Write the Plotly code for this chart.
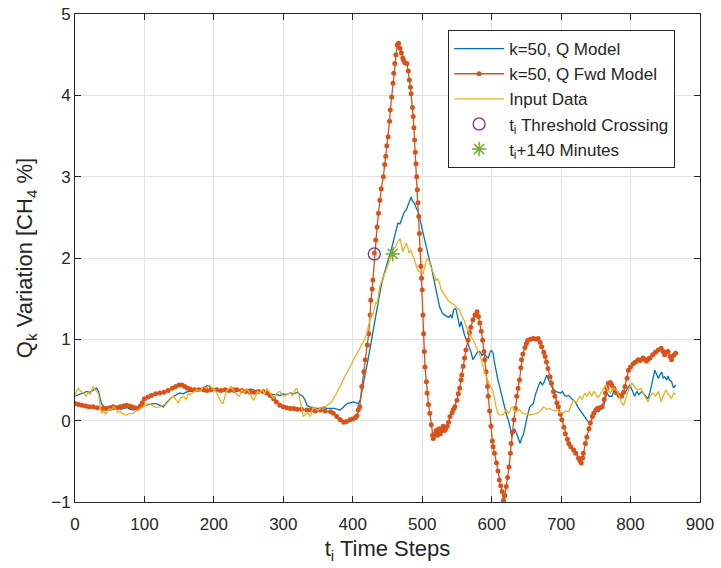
import plotly.graph_objects as go

# ---------------- data ----------------
fwd_t = [0,5,10,15,20,26,32,40,45,50,55,60,65,70,74,78,82,86,90,94,97,100,105,110,116,122,128,134,140,145,150,154,158,162,166,172,178,185,190,196,204,210,216,222,228,233,240,246,252,258,264,271,276,281,286,290,295,300,305,310,315,320,326,334,340,346,353,360,368,372,377,382,387,391,396,400,404,406,408,410,413,416,418,421,423,425,426,428,429,431,433,435,437,439,441,444,446,447.5,449,451,453,454,456,458,459,460.5,462,464,466,468,470,472,473,475,478,480,481.5,483,484,486,487,488,489,490,491,492,493,494,495,496,497,498,499,500,501,502,503,504,506,507,509,511,513,515,516,518,520,522,524,526,528,530,532,534,536,538,540,543,545,547,550,552,554,556,557,559,561,563,566,568,570,573,576,579,581,583,585,587,589,590,592,594,595,597,599,601,602,604,607,609,611,613,615,617,619,621,623,625,627,628,630,632,634,636,638,640,642,643,645,648,650,652,656,660,664,667,670,672,675,677,679,681,684,686,689,691,694,696,699,701,704,706,709,711,714,718,721,725,727,729,731,732,735,737,740,742,745,747,750,752,756,759,762,764,766,768,771,773,776,780,784,787,790,792,795,797,800,804,807,811,814,818,821,823,826,828,832,836,840,844,847,849,852,854,857,859,862,865]
fwd_v = [0.21,0.20,0.19,0.18,0.17,0.17,0.16,0.15,0.15,0.16,0.17,0.16,0.17,0.18,0.19,0.18,0.17,0.16,0.15,0.18,0.22,0.27,0.29,0.31,0.33,0.34,0.35,0.37,0.40,0.42,0.44,0.44,0.42,0.40,0.39,0.38,0.38,0.38,0.37,0.38,0.38,0.37,0.38,0.37,0.38,0.38,0.37,0.36,0.35,0.35,0.36,0.36,0.34,0.31,0.27,0.23,0.19,0.17,0.16,0.15,0.15,0.14,0.14,0.13,0.13,0.12,0.13,0.12,0.11,0.09,0.05,0.01,-0.02,-0.01,0.01,0.02,0.04,0.06,0.13,0.17,0.42,0.60,0.75,0.93,1.07,1.30,1.48,1.62,1.73,2.06,2.22,2.38,2.55,2.71,2.85,3.00,3.15,3.25,3.38,3.49,3.68,3.82,3.98,4.15,4.27,4.39,4.50,4.62,4.64,4.58,4.52,4.46,4.43,4.40,4.39,4.30,4.19,4.10,4.02,3.85,3.74,3.60,3.45,3.30,3.16,3.00,2.84,2.68,2.51,2.30,2.10,1.90,1.75,1.61,1.30,1.07,0.85,0.66,0.48,0.34,0.20,0.09,-0.05,-0.18,-0.22,-0.17,-0.12,-0.18,-0.10,-0.16,-0.12,-0.07,-0.12,-0.10,-0.07,-0.02,0.05,0.10,0.14,0.17,0.25,0.33,0.40,0.50,0.56,0.67,0.77,0.87,0.99,1.08,1.15,1.24,1.30,1.34,1.28,1.20,1.10,0.99,0.85,0.75,0.60,0.42,0.30,0.12,-0.07,-0.25,-0.32,-0.40,-0.52,-0.62,-0.73,-0.80,-0.87,-0.98,-0.92,-0.81,-0.70,-0.57,-0.40,-0.28,-0.14,0.01,0.15,0.30,0.40,0.50,0.65,0.75,0.82,0.90,0.95,0.99,1.00,1.01,1.00,1.01,0.96,0.91,0.84,0.79,0.72,0.64,0.54,0.46,0.36,0.30,0.22,0.17,0.08,0.01,-0.08,-0.16,-0.23,-0.28,-0.32,-0.36,-0.40,-0.46,-0.49,-0.52,-0.46,-0.40,-0.28,-0.20,-0.10,-0.03,0.05,0.09,0.13,0.15,0.16,0.17,0.26,0.34,0.40,0.46,0.47,0.44,0.40,0.34,0.31,0.30,0.35,0.42,0.52,0.62,0.66,0.70,0.72,0.75,0.74,0.77,0.75,0.73,0.76,0.77,0.81,0.84,0.87,0.89,0.85,0.81,0.84,0.85,0.79,0.75,0.80,0.83]

q_t = [0,4,8,12,17,21,25,31,34,36,38,42,46,50,55,60,65,70,75,80,84,88,93,98,103,108,112,117,122,127,132,137,142,146,151,156,160,165,170,175,180,185,190,195,200,205,209,214,219,224,229,233,238,243,248,252,257,262,267,271,276,281,286,290,295,300,305,310,315,320,324,328,331,334,338,343,348,353,358,363,368,373,378,382,387,392,396,401,405,408,411,415,418,422,426,430,433,437,440,444,448,453,456,460,463,465,468,470,472,474,477,480,482,484,486,489,492,494,496,499,501,503,505,508,511,513,515,518,520,522,525,527,529,532,535,538,541,543,545,547,549,551,554,556,559,561,564,566,568,570,573,575,578,580,583,586,589,592,595,598,600,602,604,606,609,612,615,617,620,622,624,627,629,631,633,636,638,641,643,646,648,650,652,655,658,660,663,665,668,670,673,675,677,679,682,684,687,689,692,695,699,702,705,708,711,714,718,721,724,727,730,733,737,740,742,745,747,750,754,757,761,764,766,769,773,776,780,783,787,790,793,796,799,802,806,809,812,816,819,822,825,828,831,833,835,838,840,842,845,847,849,852,854,856,859,862,865]
q_v = [0.30,0.32,0.33,0.34,0.36,0.35,0.37,0.40,0.36,0.28,0.21,0.17,0.15,0.13,0.14,0.16,0.14,0.15,0.16,0.14,0.13,0.15,0.17,0.18,0.19,0.20,0.21,0.21,0.19,0.17,0.22,0.27,0.30,0.32,0.34,0.33,0.35,0.36,0.36,0.38,0.39,0.41,0.43,0.41,0.39,0.37,0.38,0.37,0.36,0.37,0.35,0.36,0.38,0.36,0.37,0.39,0.38,0.36,0.35,0.36,0.34,0.33,0.32,0.32,0.31,0.33,0.32,0.34,0.33,0.35,0.32,0.30,0.26,0.19,0.17,0.16,0.15,0.15,0.16,0.15,0.15,0.15,0.14,0.13,0.17,0.21,0.22,0.23,0.22,0.21,0.26,0.42,0.58,0.75,0.95,1.16,1.32,1.48,1.62,1.77,1.88,2.02,2.12,2.26,2.38,2.43,2.42,2.47,2.51,2.56,2.59,2.65,2.70,2.75,2.70,2.67,2.60,2.58,2.50,2.38,2.30,2.22,2.15,2.06,1.95,1.90,1.81,1.68,1.60,1.52,1.40,1.36,1.32,1.30,1.28,1.27,1.30,1.26,1.36,1.38,1.36,1.28,1.15,1.22,1.10,1.05,0.99,0.95,0.90,0.85,0.75,0.78,0.82,0.85,0.85,0.80,0.83,0.79,0.77,0.85,0.86,0.83,0.72,0.62,0.50,0.40,0.28,0.21,0.12,0.05,0.01,-0.10,-0.20,-0.15,-0.10,-0.16,-0.20,-0.28,-0.22,-0.16,-0.08,0.01,0.08,0.17,0.19,0.21,0.32,0.38,0.44,0.48,0.44,0.46,0.52,0.56,0.50,0.46,0.41,0.38,0.36,0.35,0.34,0.36,0.31,0.30,0.31,0.28,0.25,0.22,0.17,0.13,0.10,0.05,0.01,-0.02,-0.05,0.04,0.09,0.12,0.11,0.14,0.17,0.28,0.34,0.30,0.30,0.36,0.34,0.28,0.33,0.32,0.36,0.40,0.44,0.38,0.30,0.36,0.32,0.36,0.33,0.30,0.27,0.35,0.45,0.55,0.62,0.56,0.52,0.56,0.60,0.52,0.54,0.50,0.55,0.50,0.48,0.40,0.44]

in_t = [0,2,5,8,12,16,19,22,26,29,32,34,36,38,41,44,46,50,53,55,58,62,65,69,74,78,84,88,93,98,103,108,112,117,122,127,132,137,142,146,149,152,156,160,163,166,170,175,180,185,189,194,198,201,204,208,211,213,216,218,222,225,229,233,237,240,244,247,250,254,257,260,263,266,270,273,276,280,283,286,289,292,295,299,302,306,310,313,316,319,322,324,326,329,332,336,339,343,346,350,354,358,362,367,371,374,377,380,383,386,389,392,396,399,401,405,408,411,415,418,420,423,425,427,429,431,433,435,437,439,441,443,446,448,450,453,455,458,460,463,465,468,470,472,474,477,479,481,484,486,488,491,493,496,498,501,503,506,508,511,513,515,518,520,522,525,527,530,532,534,537,540,544,547,550,554,556,559,561,563,566,568,571,573,576,578,580,582,585,587,589,592,594,597,600,602,604,606,609,612,615,617,621,624,626,628,631,633,636,640,643,646,650,655,660,665,670,675,679,684,689,694,698,703,707,711,714,718,722,727,730,734,737,741,744,747,750,753,756,760,764,767,771,775,780,784,787,790,793,795,798,802,806,809,811,815,818,821,825,828,832,836,840,842,844,847,851,854,857,859,862,865]
in_v = [0.30,0.36,0.40,0.36,0.34,0.30,0.35,0.32,0.42,0.38,0.36,0.32,0.20,0.09,0.12,0.08,0.11,0.15,0.13,0.17,0.15,0.10,0.11,0.08,0.07,0.09,0.09,0.12,0.14,0.17,0.20,0.21,0.18,0.16,0.17,0.19,0.21,0.26,0.30,0.25,0.22,0.28,0.30,0.26,0.33,0.32,0.35,0.38,0.36,0.42,0.40,0.44,0.39,0.38,0.34,0.26,0.22,0.21,0.30,0.36,0.40,0.42,0.36,0.32,0.30,0.38,0.35,0.40,0.36,0.30,0.25,0.30,0.36,0.34,0.38,0.33,0.40,0.35,0.31,0.27,0.32,0.35,0.36,0.31,0.30,0.33,0.34,0.30,0.36,0.40,0.33,0.25,0.14,0.05,0.08,0.09,0.05,0.17,0.15,0.13,0.16,0.17,0.18,0.21,0.25,0.30,0.34,0.40,0.44,0.50,0.55,0.58,0.66,0.70,0.75,0.80,0.85,0.91,0.98,1.02,1.07,1.18,1.26,1.32,1.30,1.38,1.45,1.44,1.55,1.65,1.70,1.72,1.81,1.86,1.90,1.97,2.00,2.10,2.12,2.18,2.20,2.24,2.15,2.08,2.12,2.18,2.14,2.06,2.10,2.03,2.00,1.93,1.86,1.83,1.85,1.80,1.88,1.97,2.00,1.93,1.88,1.85,1.77,1.72,1.75,1.69,1.62,1.58,1.55,1.52,1.48,1.46,1.44,1.42,1.38,1.36,1.30,1.25,1.22,1.16,1.10,1.08,1.02,1.00,0.95,0.90,0.86,0.83,0.75,0.68,0.62,0.55,0.50,0.44,0.40,0.36,0.28,0.18,0.09,0.07,0.07,0.08,0.13,0.09,0.11,0.16,0.17,0.12,0.11,0.14,0.10,0.09,0.08,0.07,0.08,0.09,0.12,0.17,0.14,0.15,0.12,0.13,0.10,0.09,0.12,0.11,0.18,0.25,0.22,0.30,0.26,0.34,0.30,0.36,0.30,0.36,0.33,0.28,0.32,0.38,0.44,0.38,0.34,0.40,0.38,0.30,0.22,0.19,0.26,0.32,0.40,0.46,0.42,0.38,0.38,0.40,0.34,0.30,0.23,0.30,0.34,0.30,0.36,0.30,0.23,0.30,0.38,0.33,0.30,0.27,0.34,0.32]

cross_t = [431]
cross_v = [2.05]
plus140_t = [457.5]
plus140_v = [2.05]

x_ticks = [0, 100, 200, 300, 400, 500, 600, 700, 800, 900]
y_ticks = [-1, 0, 1, 2, 3, 4, 5]

# ---------------- figure ----------------
BLUE = "#0072BD"
ORANGE = "#D95319"
YELLOW = "#EDB120"
PURPLE = "#7E2F8E"
GREEN = "#77AC30"
FONT = "Liberation Sans, Arial, sans-serif"

fig = go.Figure()
fig.add_trace(go.Scatter(x=q_t, y=q_v, mode="lines", name="k=50, Q Model",
                         line=dict(color=BLUE, width=1.3)))
fig.add_trace(go.Scatter(x=fwd_t, y=fwd_v, mode="lines+markers", name="k=50, Q Fwd Model",
                         line=dict(color=ORANGE, width=1.3),
                         marker=dict(color=ORANGE, size=5)))
fig.add_trace(go.Scatter(x=in_t, y=in_v, mode="lines", name="Input Data",
                         line=dict(color=YELLOW, width=1.3)))
fig.add_trace(go.Scatter(x=cross_t, y=cross_v, mode="markers", name="t<sub>i</sub> Threshold Crossing",
                         marker=dict(symbol="circle-open", color=PURPLE, size=12,
                                     line=dict(width=1.3, color=PURPLE))))
fig.add_trace(go.Scatter(x=plus140_t, y=plus140_v, mode="markers", name="t<sub>i</sub>+140 Minutes",
                         marker=dict(symbol="asterisk-open", color=GREEN, size=12,
                                     line=dict(width=1.5, color=GREEN))))

axis_common = dict(
    showline=True, linecolor="#262626", linewidth=1, mirror="ticks",
    ticks="inside", ticklen=6, tickcolor="#262626", tickwidth=1,
    showgrid=True, gridcolor="#e3e3e3", gridwidth=1, zeroline=False,
    tickfont=dict(family=FONT, size=17, color="#262626"),
    automargin=False, ticklabeloverflow="allow",
)

fig.update_layout(
    width=721, height=568,
    margin=dict(l=75, r=21, t=14, b=66),
    paper_bgcolor="white", plot_bgcolor="white",
    font=dict(family=FONT, color="#262626"),
    showlegend=True,
    legend=dict(x=0.597, y=0.967, xanchor="left", yanchor="top",
                bgcolor="white", bordercolor="#262626", borderwidth=1,
                font=dict(family=FONT, size=17, color="#262626"),
                tracegroupgap=0, itemwidth=50),
    xaxis=dict(range=[0, 900], tickvals=x_ticks, ticklabelstandoff=7,
               title=dict(text="t<sub>i</sub> Time Steps", font=dict(family=FONT, size=22), standoff=7),
               **axis_common),
    yaxis=dict(range=[-1, 5], tickvals=y_ticks,
               title=dict(text="Q<sub>k</sub> Variation [CH<sub>4</sub> %]", font=dict(family=FONT, size=22), standoff=12),
               **axis_common),
)

# remove the browser's default page margin so the figure sits at the window origin
fig.write_html("out.html",
               config={"displayModeBar": False},
               post_script="document.body.style.margin='0';document.body.style.overflow='hidden';")
